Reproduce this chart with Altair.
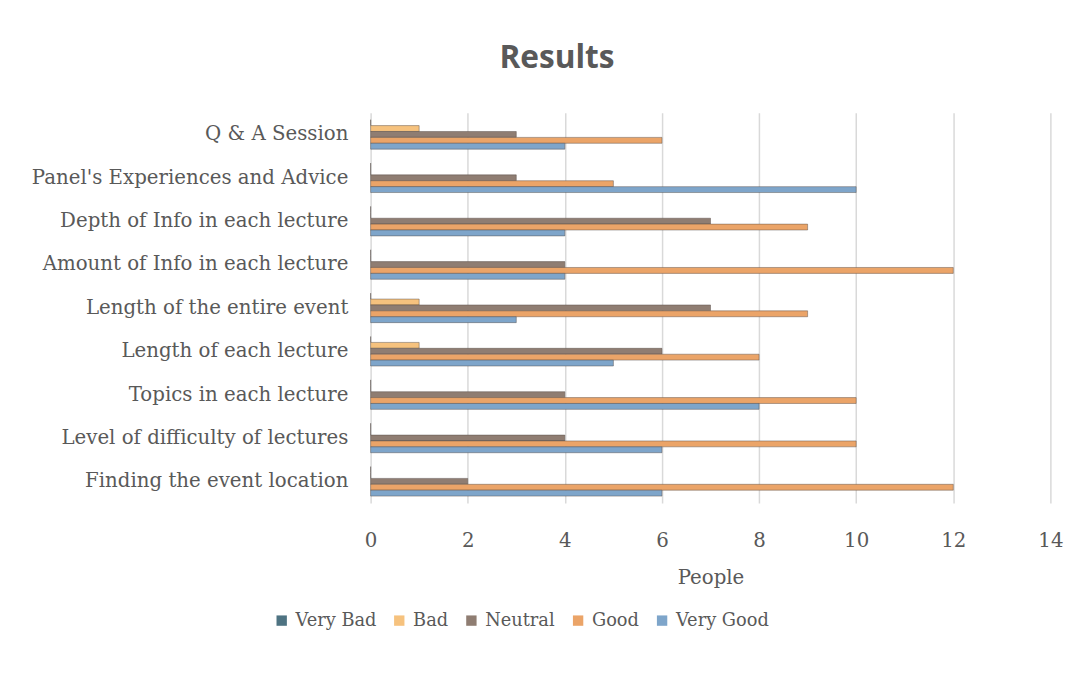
import altair as alt
import pandas as pd

categories = [
    "Q & A Session",
    "Panel's Experiences and Advice",
    "Depth of Info in each lecture",
    "Amount of Info in each lecture",
    "Length of the entire event",
    "Length of each lecture",
    "Topics in each lecture",
    "Level of difficulty of lectures",
    "Finding the event location",
]
series = ["Very Bad", "Bad", "Neutral", "Good", "Very Good"]
very_bad = [0, 0, 0, 0, 0, 0, 0, 0, 0]
bad = [1, 0, 0, 0, 1, 1, 0, 0, 0]
neutral = [3, 3, 7, 4, 7, 6, 4, 4, 2]
good = [6, 5, 9, 12, 9, 8, 10, 10, 12]
very_good = [4, 10, 4, 4, 3, 5, 8, 6, 6]
colors = ["#4e7382", "#f6c27e", "#8f7d72", "#eba468", "#7ea5ca"]
x_ticks = [0, 2, 4, 6, 8, 10, 12, 14]

rows = []
for name, vals in zip(series, [very_bad, bad, neutral, good, very_good]):
    for c, v in zip(categories, vals):
        rows.append({"Category": c, "Rating": name, "People": v})
df = pd.DataFrame(rows)

serif = "DejaVu Serif"
txt = "#595959"

chart = alt.Chart(df).mark_bar(
    stroke="#4f4640", strokeWidth=0.8, strokeOpacity=0.55
).encode(
    y=alt.Y("Category:N", sort=categories, title=None,
            scale=alt.Scale(paddingInner=0.32, paddingOuter=0.16),
            axis=alt.Axis(labelFont=serif, labelFontSize=20, labelColor=txt,
                          ticks=False, domain=False, labelPadding=23, grid=False,
                          labelLimit=400)),
    yOffset=alt.YOffset("Rating:N", sort=series,
                        scale=alt.Scale(domain=series, paddingInner=0, paddingOuter=0)),
    x=alt.X("People:Q", title="People",
            scale=alt.Scale(domain=[0, 14], nice=False),
            axis=alt.Axis(values=x_ticks, labelFont=serif, labelFontSize=20,
                          labelColor=txt, titleFont=serif, titleFontSize=20,
                          titleColor=txt, titleFontWeight="normal", titlePadding=17,
                          ticks=False, domain=False, gridColor="#d9d9d9",
                          gridWidth=1.5, labelPadding=28, labelFlush=False)),
    color=alt.Color("Rating:N", sort=series,
                    scale=alt.Scale(domain=series, range=colors),
                    legend=alt.Legend(title=None, orient="none", direction="horizontal",
                                      legendX=-99, legendY=505,
                                      labelFont=serif, labelFontSize=18,
                                      labelColor=txt, symbolType="square",
                                      symbolSize=110, columnPadding=14,
                                      labelOffset=5,
                                      symbolStrokeWidth=0)),
).properties(
    width=688,
    height=395,
    title=alt.TitleParams("Results", font="Open Sans", fontSize=32,
                          fontWeight="bold", color=txt, anchor="middle",
                          frame="bounds", offset=38, dx=10),
    padding={"left": 23, "top": 31, "right": 20, "bottom": 40},
).configure_view(stroke=None)

chart.save("out.html", embed_options={"renderer": "svg", "actions": False})
